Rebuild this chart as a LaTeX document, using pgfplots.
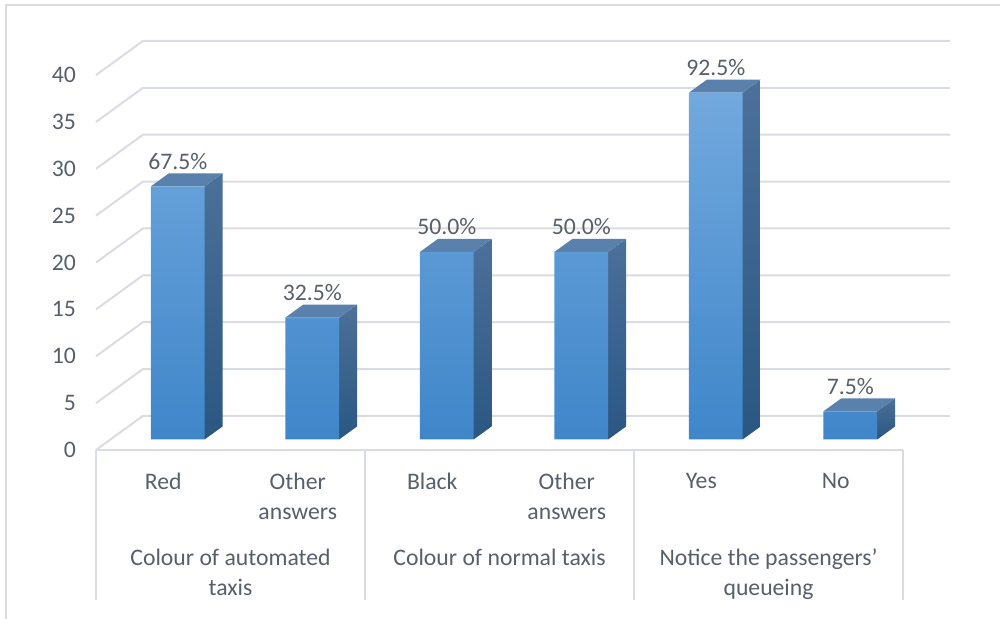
\documentclass[border=0pt]{standalone}
\usepackage{fontspec}
\setmainfont{Carlito}
\usepackage{pgfplots}
\pgfplotsset{compat=1.18}

\definecolor{txt}{HTML}{575F6B}
\definecolor{gridc}{HTML}{D9DCE3}
\definecolor{ftop}{HTML}{72A9DE}
\definecolor{fbot}{HTML}{3F86C9}
\definecolor{stop}{HTML}{4C7099}
\definecolor{sbot}{HTML}{2A5782}
\definecolor{tface}{HTML}{5A80AC}

\begin{document}
\begin{tikzpicture}[x=1pt,y=1pt]
\path[use as bounding box] (0,0) rectangle (500,309.5);
\draw[gridc, line width=1pt] (3,0) -- (3,307) -- (500,307);
\begin{axis}[
  at={(48pt,84.5pt)}, anchor=south west, scale only axis,
  width=427pt, height=204.5pt,
  xmin=-0.5, xmax=5.849, ymin=-1.128, ymax=42.512,
  axis line style={draw=none}, clip=false,
  major tick length=0pt,
  /pgf/number format/assume math mode=true,
  ytick={-1.128,3.872,8.872,13.872,18.872,23.872,28.872,33.872,38.872},
  yticklabels={0,5,10,15,20,25,30,35,40},
  yticklabel style={font=\fontsize{11.85}{15}\selectfont, text=txt, anchor=east, xshift=-6.5pt},
  xtick={0,1,2,3,4,5},
  xticklabels={Red, Other\\answers, Black, Other\\answers, Yes, No},
  xticklabel style={font=\fontsize{11.85}{15}\selectfont, text=txt, align=center, anchor=north, yshift=-8pt},
  every node near coord/.append style={font=\fontsize{11.85}{15}\selectfont, text=txt, anchor=south, yshift=5pt},
]
% back wall and left wall gridlines
\addplot[gridc, line width=1pt] coordinates {(-0.5,-1.128) (-0.151,2.512) (5.849,2.512)};
\addplot[gridc, line width=1pt] coordinates {(-0.5,3.872) (-0.151,7.512) (5.849,7.512)};
\addplot[gridc, line width=1pt] coordinates {(-0.5,8.872) (-0.151,12.512) (5.849,12.512)};
\addplot[gridc, line width=1pt] coordinates {(-0.5,13.872) (-0.151,17.512) (5.849,17.512)};
\addplot[gridc, line width=1pt] coordinates {(-0.5,18.872) (-0.151,22.512) (5.849,22.512)};
\addplot[gridc, line width=1pt] coordinates {(-0.5,23.872) (-0.151,27.512) (5.849,27.512)};
\addplot[gridc, line width=1pt] coordinates {(-0.5,28.872) (-0.151,32.512) (5.849,32.512)};
\addplot[gridc, line width=1pt] coordinates {(-0.5,33.872) (-0.151,37.512) (5.849,37.512)};
\addplot[gridc, line width=1pt] coordinates {(-0.5,38.872) (-0.151,42.512) (5.849,42.512)};
% front floor edge and category separators
\addplot[gridc, line width=1pt] coordinates {(-0.5,-1.128) (5.5,-1.128)};
\addplot[gridc, line width=1pt] coordinates {(-0.5,-1.128) (-0.5,-17.17)};
\addplot[gridc, line width=1pt] coordinates {(1.5,-1.128) (1.5,-17.17)};
\addplot[gridc, line width=1pt] coordinates {(3.5,-1.128) (3.5,-17.17)};
\addplot[gridc, line width=1pt] coordinates {(5.5,-1.128) (5.5,-17.17)};
% bar side faces
\addplot[draw=none, top color=stop, bottom color=sbot] coordinates {(0.308,0) (0.441,1.384) (0.441,28.384) (0.308,27)} -- cycle;
\addplot[draw=none, top color=stop, bottom color=sbot] coordinates {(1.308,0) (1.441,1.384) (1.441,14.384) (1.308,13)} -- cycle;
\addplot[draw=none, top color=stop, bottom color=sbot] coordinates {(2.308,0) (2.441,1.384) (2.441,21.384) (2.308,20)} -- cycle;
\addplot[draw=none, top color=stop, bottom color=sbot] coordinates {(3.308,0) (3.441,1.384) (3.441,21.384) (3.308,20)} -- cycle;
\addplot[draw=none, top color=stop, bottom color=sbot] coordinates {(4.308,0) (4.441,1.384) (4.441,38.384) (4.308,37)} -- cycle;
\addplot[draw=none, top color=stop, bottom color=sbot] coordinates {(5.308,0) (5.441,1.384) (5.441,4.384) (5.308,3)} -- cycle;
% bar top faces
\addplot[draw=none, fill=tface] coordinates {(-0.092,27) (0.308,27) (0.441,28.384) (0.041,28.384)} -- cycle;
\addplot[draw=none, fill=tface] coordinates {(0.908,13) (1.308,13) (1.441,14.384) (1.041,14.384)} -- cycle;
\addplot[draw=none, fill=tface] coordinates {(1.908,20) (2.308,20) (2.441,21.384) (2.041,21.384)} -- cycle;
\addplot[draw=none, fill=tface] coordinates {(2.908,20) (3.308,20) (3.441,21.384) (3.041,21.384)} -- cycle;
\addplot[draw=none, fill=tface] coordinates {(3.908,37) (4.308,37) (4.441,38.384) (4.041,38.384)} -- cycle;
\addplot[draw=none, fill=tface] coordinates {(4.908,3) (5.308,3) (5.441,4.384) (5.041,4.384)} -- cycle;
% bar front faces
\addplot[ybar, bar width=0.4, bar shift=0pt, draw=none, top color=ftop, bottom color=fbot,
  point meta=explicit symbolic, nodes near coords]
  coordinates {(0.108,27) [67.5\%] (1.108,13) [32.5\%] (2.108,20) [50.0\%] (3.108,20) [50.0\%] (4.108,37) [92.5\%] (5.108,3) [7.5\%]};
% group labels
\node[font=\fontsize{11.85}{15}\selectfont, text=txt, align=center, anchor=north, yshift=-46pt] at (axis cs:0.5,-1.128) {Colour of automated\\taxis};
\node[font=\fontsize{11.85}{15}\selectfont, text=txt, align=center, anchor=north, yshift=-46pt] at (axis cs:2.5,-1.128) {Colour of normal taxis};
\node[font=\fontsize{11.85}{15}\selectfont, text=txt, align=center, anchor=north, yshift=-46pt] at (axis cs:4.5,-1.128) {Notice the passengers’\\queueing};
\end{axis}
\end{tikzpicture}
\end{document}
